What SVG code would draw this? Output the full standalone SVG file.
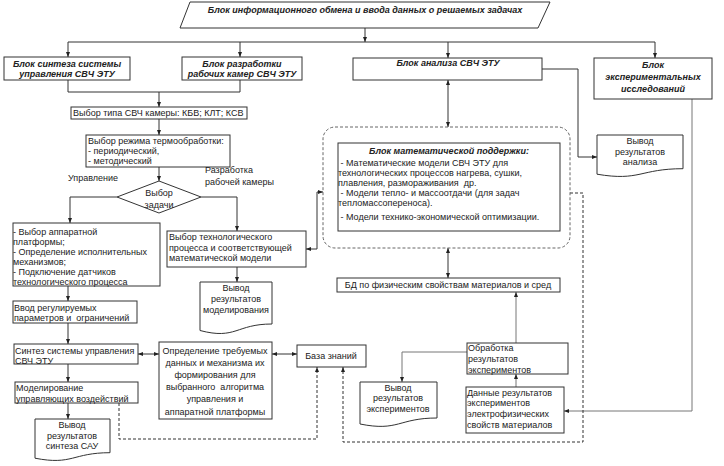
<svg xmlns="http://www.w3.org/2000/svg" width="724" height="466" viewBox="0 0 724 466">
<defs>
<style>
.box{fill:#fff;stroke:#333;stroke-width:1}
.t{font-family:"Liberation Sans",Arial,sans-serif;font-size:9px;fill:#222}
.b{font-weight:bold;font-style:italic}
.c{text-anchor:middle}
.ln{fill:none;stroke:#333;stroke-width:1}
.gr{stroke:#777}
.dash{stroke-dasharray:3 2}
.rnd{fill:none;stroke:#666;stroke-width:1;stroke-dasharray:3 2}
</style>
<marker id="ah" viewBox="0 0 10 10" refX="10" refY="5" markerWidth="5" markerHeight="5" orient="auto-start-reverse">
<path d="M0,1 L10,5 L0,9 z" fill="#222"/>
</marker>
</defs>
<rect width="724" height="466" fill="#fff"/>

<g id="connectors">
<path class="ln" d="M365,28 V42" marker-end="url(#ah)"/>
<path class="ln" d="M68,42 H655"/>
<path class="ln" d="M68,42 V57" marker-end="url(#ah)"/>
<path class="ln" d="M240,42 V57" marker-end="url(#ah)"/>
<path class="ln" d="M448,42 V58" marker-end="url(#ah)"/>
<path class="ln" d="M655,42 V58" marker-end="url(#ah)"/>
<path class="ln" d="M68,80 V92 H240 V80"/>
<path class="ln" d="M159,92 V107" marker-end="url(#ah)"/>
<path class="ln" d="M159,119 V135" marker-end="url(#ah)"/>
<path class="ln" d="M159,167 V181" marker-end="url(#ah)"/>
<path class="ln" d="M117,197 H70 V223" marker-end="url(#ah)"/>
<path class="ln" d="M201,197 H237 V231" marker-end="url(#ah)"/>
<path class="ln" d="M68,286 V301" marker-end="url(#ah)"/>
<path class="ln" d="M68,323 V344" marker-end="url(#ah)"/>
<path class="ln" d="M68,364 V382" marker-end="url(#ah)"/>
<path class="ln" d="M68,403 V419" marker-end="url(#ah)"/>
<path class="ln" d="M237,267 V282" marker-end="url(#ah)"/>
<path class="ln" d="M306,249 H317 V192 H323" marker-start="url(#ah)" marker-end="url(#ah)"/>
<path class="ln" d="M448,80 V127" marker-start="url(#ah)" marker-end="url(#ah)"/>
<path class="ln" d="M542,69 H578 V157 H597" marker-end="url(#ah)"/>
<path class="ln" d="M448,248 V278" marker-start="url(#ah)" marker-end="url(#ah)"/>
<path class="ln gr" d="M516,343 V292" marker-end="url(#ah)"/>
<path class="ln gr" d="M516,387 V374" marker-end="url(#ah)"/>
<path class="ln gr" d="M467,352 H402 V382" marker-end="url(#ah)"/>
<path class="ln gr" d="M692,99 V411 H564" marker-end="url(#ah)"/>
<path class="ln" d="M138,354 H159" marker-start="url(#ah)" marker-end="url(#ah)"/>
<path class="ln" d="M272,354 H297" marker-start="url(#ah)" marker-end="url(#ah)"/>
<path class="ln dash" d="M119,403 V439 H317 V367" marker-end="url(#ah)"/>
<path class="ln dash" d="M570,193 H583 V442 H343 V367" marker-end="url(#ah)"/>
</g>

<g id="top">
<polygon class="box" points="190,2 550,2 538,28 180,28"/>
<text class="t b c" x="365" y="13">Блок информационного обмена и ввода данных о решаемых задачах</text>
</g>

<g id="synth">
<rect class="box" x="4" y="57" width="126" height="23"/>
<text class="t b c" x="67" y="67">Блок синтеза системы</text>
<text class="t b c" x="67" y="77">управления СВЧ ЭТУ</text>
</g>

<g id="razrab">
<rect class="box" x="182" y="57" width="120" height="23"/>
<text class="t b c" x="242" y="67">Блок разработки</text>
<text class="t b c" x="242" y="77">рабочих камер СВЧ ЭТУ</text>
</g>

<g id="analiz">
<rect class="box" x="353" y="58" width="189" height="22"/>
<text class="t b c" x="448" y="66">Блок анализа СВЧ ЭТУ</text>
</g>

<g id="exper">
<rect class="box" x="594" y="58" width="118" height="41"/>
<text class="t b c" x="653" y="68">Блок</text>
<text class="t b c" x="653" y="80">экспериментальных</text>
<text class="t b c" x="653" y="92">исследований</text>
</g>

<g id="tip">
<rect class="box" x="71" y="107" width="176" height="12"/>
<text class="t" x="73" y="116">Выбор типа СВЧ камеры: КБВ; КЛТ; КСВ</text>
</g>

<g id="rezhim">
<rect class="box" x="86" y="135" width="144" height="32"/>
<text class="t" x="88" y="144">Выбор режима термообработки:</text>
<text class="t" x="88" y="154">- периодический,</text>
<text class="t" x="88" y="164">- методический</text>
</g>

<g id="zadacha">
<polygon class="box" points="159,181 201,197 159,213 117,197"/>
<text class="t c" x="159" y="196">Выбор</text>
<text class="t c" x="159" y="208">задачи</text>
</g>

<g id="labels">
<text class="t" x="68" y="181">Управление</text>
<text class="t" x="205" y="173">Разработка</text>
<text class="t" x="205" y="185">рабочей камеры</text>
</g>

<g id="platforma">
<rect class="box" x="13" y="223" width="147" height="63"/>
<text class="t" x="13" y="235">- Выбор аппаратной</text>
<text class="t" x="13" y="245">платформы;</text>
<text class="t" x="13" y="255">- Определение исполнительных</text>
<text class="t" x="13" y="265">механизмов;</text>
<text class="t" x="13" y="275">- Подключение датчиков</text>
<text class="t" x="13" y="285">технологического процесса</text>
</g>

<g id="tekhn">
<rect class="box" x="167" y="231" width="139" height="36"/>
<text class="t" x="169" y="240">Выбор технологического</text>
<text class="t" x="169" y="251">процесса и соответствующей</text>
<text class="t" x="169" y="261">математической модели</text>
</g>

<g id="vyvod-model">
<path class="box" d="M200,282 H272 V324 C236,324 236,340 200,330.5 Z"/>
<text class="t c" x="236" y="291">Вывод</text>
<text class="t c" x="236" y="302">результатов</text>
<text class="t c" x="236" y="313">моделирования</text>
</g>

<g id="math">
<rect class="rnd" x="323" y="127" width="247" height="121" rx="12"/>
<rect class="box" x="338" y="143" width="222" height="88"/>
<text class="t b c" x="449" y="154">Блок математической поддержки:</text>
<text class="t" x="338" y="166" xml:space="preserve"> - Математические модели СВЧ ЭТУ для</text>
<text class="t" x="338" y="176">технологических процессов нагрева, сушки,</text>
<text class="t" x="338" y="186" xml:space="preserve">плавления, размораживания  др.</text>
<text class="t" x="338" y="196" xml:space="preserve"> - Модели тепло- и массоотдачи (для задач</text>
<text class="t" x="338" y="206">тепломассопереноса).</text>
<text class="t" x="338" y="220" xml:space="preserve"> - Модели технико-экономической оптимизации.</text>
</g>

<g id="vyvod-analiz">
<path class="box" d="M597,135 H683 V168.7 C640,168.7 640,181.5 597,174.2 Z"/>
<text class="t c" x="640" y="144">Вывод</text>
<text class="t c" x="640" y="155">результатов</text>
<text class="t c" x="640" y="165">анализа</text>
</g>

<g id="bd">
<rect class="box" x="337" y="278" width="223" height="14"/>
<text class="t c" x="448" y="288">БД по физическим свойствам материалов и сред</text>
</g>

<g id="vvod">
<rect class="box" x="13" y="301" width="124" height="22"/>
<text class="t" x="14" y="311">Ввод регулируемых</text>
<text class="t" x="14" y="321" xml:space="preserve">параметров и  ограничений</text>
</g>

<g id="sintez">
<rect class="box" x="14" y="344" width="124" height="20"/>
<text class="t" x="15" y="354">Синтез системы управления</text>
<text class="t" x="15" y="364">СВЧ ЭТУ</text>
</g>

<g id="opredelenie">
<rect class="box" x="159" y="342" width="113" height="77"/>
<text class="t c" x="215" y="354">Определение требуемых</text>
<text class="t c" x="215" y="366">данных и механизма их</text>
<text class="t c" x="215" y="378">формирования для</text>
<text class="t c" x="215" y="390" xml:space="preserve">выбранного  алгоритма</text>
<text class="t c" x="215" y="402">управления и</text>
<text class="t c" x="215" y="415">аппаратной платформы</text>
</g>

<g id="baza">
<rect class="box" x="297" y="345" width="69" height="22"/>
<text class="t c" x="331" y="359">База знаний</text>
</g>

<g id="modelirovanie">
<rect class="box" x="15" y="382" width="123" height="21"/>
<text class="t" x="16" y="391">Моделирование</text>
<text class="t" x="16" y="402">управляющих воздействий</text>
</g>

<g id="vyvod-sintez">
<path class="box" d="M35,419 H110 V452.7 C72.5,452.7 72.5,465.5 35,458.2 Z"/>
<text class="t c" x="72" y="428">Вывод</text>
<text class="t c" x="72" y="439">результатов</text>
<text class="t c" x="72" y="449">синтеза САУ</text>
</g>

<g id="obrabotka">
<rect class="box" x="467" y="343" width="101" height="31"/>
<text class="t" x="468" y="351">Обработка</text>
<text class="t" x="468" y="362">результатов</text>
<text class="t" x="468" y="373">экспериментов</text>
</g>

<g id="vyvod-exper">
<path class="box" d="M360,382 H437 V418 C398.5,418 398.5,431.8 360,424 Z"/>
<text class="t c" x="398" y="391">Вывод</text>
<text class="t c" x="398" y="401">результатов</text>
<text class="t c" x="398" y="412">экспериментов</text>
</g>

<g id="dannye">
<rect class="box" x="466" y="387" width="98" height="46"/>
<text class="t" x="467" y="396">Данные результатов</text>
<text class="t" x="467" y="406">экспериментов</text>
<text class="t" x="467" y="417">электрофизических</text>
<text class="t" x="467" y="428">свойств материалов</text>
</g>
</svg>
